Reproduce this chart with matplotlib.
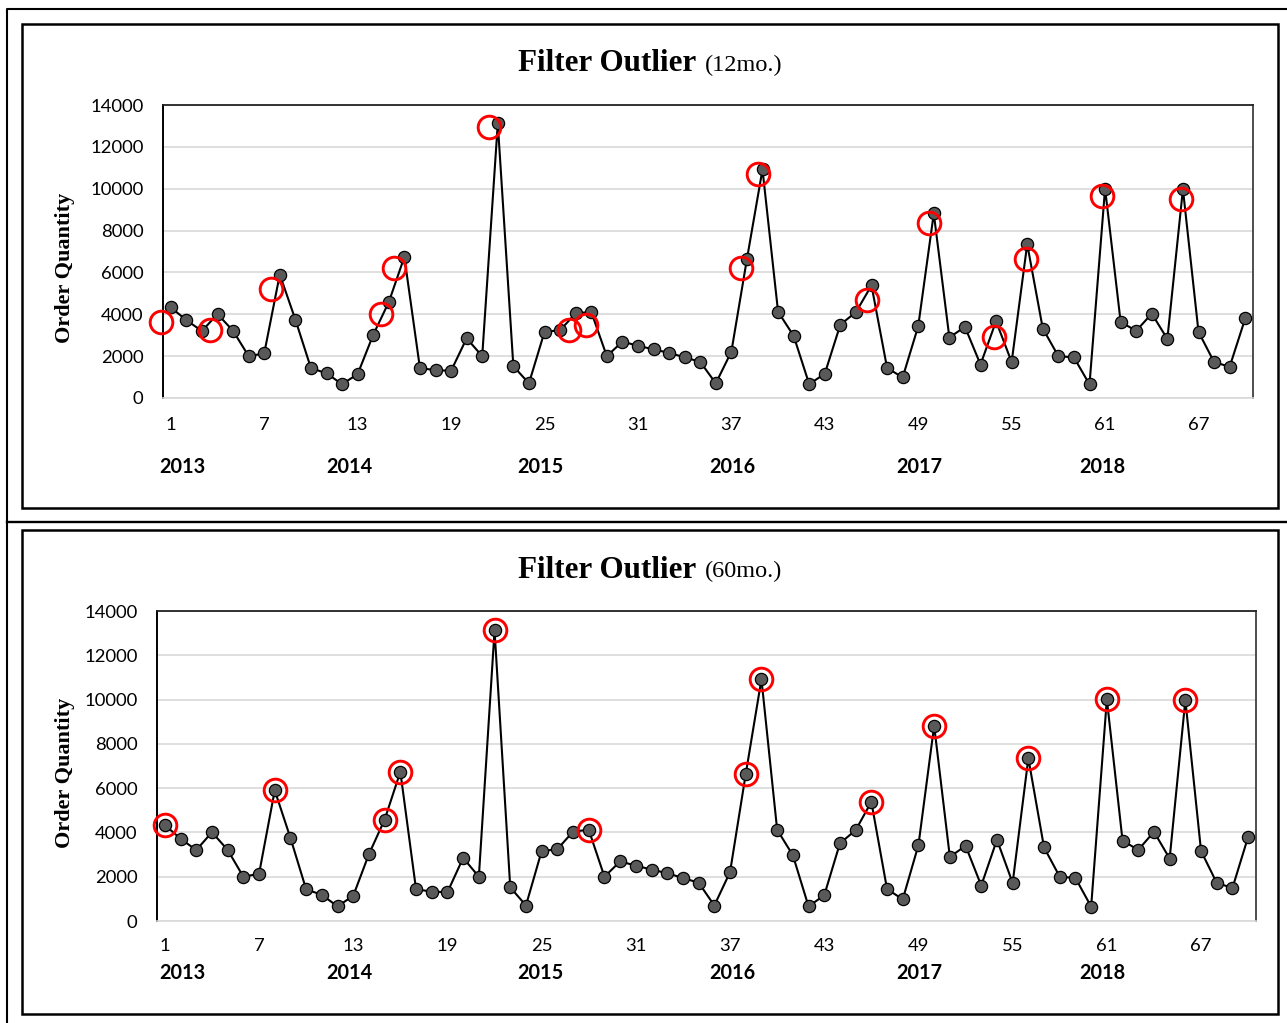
import matplotlib
matplotlib.use('Agg')
import matplotlib.pyplot as plt
from matplotlib.lines import Line2D
from matplotlib.patches import Rectangle

# ---------------- data ----------------
months = list(range(1, 71))
order_qty = [4330, 3720, 3200, 4010, 3210, 2000, 2130, 5900, 3750, 1430,
             1180, 660, 1140, 3020, 4580, 6740, 1430, 1330, 1300, 2850,
             2000, 13120, 1520, 700, 3160, 3240, 4040, 4120, 2000, 2690,
             2500, 2320, 2160, 1940, 1730, 700, 2210, 6640, 10920, 4120,
             2970, 660, 1160, 3510, 4100, 5380, 1440, 980, 3430, 8820,
             2890, 3400, 1600, 3670, 1720, 7350, 3320, 2000, 1940, 650,
             10010, 3630, 3210, 4030, 2820, 9980, 3160, 1720, 1490, 3800]

# red rings, 12-month filter (drawn slightly off the points in the original)
outlier12_x = [0.36, 3.53, 7.45, 14.47, 15.35, 21.46, 26.60, 27.67,
               37.61, 38.68, 45.70, 49.69, 53.85, 55.90, 60.83, 65.86]
outlier12_y = [3640, 3240, 5200, 4010, 6190, 12960, 3240, 3480,
               6190, 10700, 4680, 8340, 2900, 6620, 9650, 9490]

# red rings, 60-month filter (on the points)
outlier60_month = [1, 8, 15, 16, 22, 28, 38, 39, 46, 50, 56, 61, 66]

x_ticks = [1, 7, 13, 19, 25, 31, 37, 43, 49, 55, 61, 67]
y_ticks = [0, 2000, 4000, 6000, 8000, 10000, 12000, 14000]
years = ['2013', '2014', '2015', '2016', '2017', '2018']
titles = [('Filter Outlier', '(12mo.)'), ('Filter Outlier', '(60mo.)')]
ylabel = 'Order Quantity'

# ---------------- layout ----------------
W, H = 1287, 1023
fig = plt.figure(figsize=(W / 100, H / 100), dpi=100)
fig.patch.set_facecolor('white')

def fx(px):
    return px / W

def fy(py):
    return 1 - py / H

TICK_FONT = 'Lato'
SERIF = 'Liberation Serif'

# outer frame + divider
fig.add_artist(Line2D([fx(7), fx(7), fx(W)], [fy(H), fy(9), fy(9)],
                      transform=fig.transFigure, color='black', lw=1.5))
fig.add_artist(Line2D([fx(7), fx(W)], [fy(521.5), fy(521.5)],
                      transform=fig.transFigure, color='black', lw=1.7))

# panel boxes
for (top, bot) in [(24, 508), (530, 1014)]:
    fig.add_artist(Rectangle((fx(22), fy(bot)), fx(1278) - fx(22), fy(top) - fy(bot),
                             transform=fig.transFigure, fill=False,
                             edgecolor='black', lw=1.8))

panels = [
    dict(ax=(163, 1253, 105, 398), title_base=71.5, ylab_y=268, year_y=467),
    dict(ax=(157, 1256, 611, 921), title_base=577.5, ylab_y=773, year_y=973),
]
year_px = [182, 349, 540, 732, 919, 1102]

for i, p in enumerate(panels):
    l, r, t, b = p['ax']
    ax = fig.add_axes([fx(l), fy(b), fx(r) - fx(l), fy(t) - fy(b)])
    ax.set_xlim(0.5, 70.5)
    ax.set_ylim(0, 14000)
    ax.set_facecolor('none')
    ax.yaxis.grid(True, color='#d9d9d9', lw=1.2, zorder=0)
    ax.set_axisbelow(True)
    ax.set_yticks(y_ticks)
    ax.set_xticks(x_ticks)
    ax.tick_params(axis='both', length=0, labelsize=13.3)
    ax.tick_params(axis='y', pad=14)
    ax.tick_params(axis='x', pad=14 if i == 0 else 12)
    for lab in ax.get_xticklabels() + ax.get_yticklabels():
        lab.set_fontfamily(TICK_FONT)
    ax.spines['left'].set_color('black')
    ax.spines['left'].set_linewidth(1.4)
    ax.spines['top'].set_color('#222222')
    ax.spines['top'].set_linewidth(1.3)
    ax.spines['right'].set_color('#404040')
    ax.spines['right'].set_linewidth(1.3)
    ax.spines['bottom'].set_color('#d9d9d9')
    ax.spines['bottom'].set_linewidth(1.2)

    ax.plot(months, order_qty, color='black', lw=1.5, marker='o',
            markersize=8.8, markerfacecolor='#595959', markeredgecolor='black',
            markeredgewidth=0.9, zorder=3, clip_on=False)

    if i == 0:
        ax.plot(outlier12_x, outlier12_y, linestyle='none', marker='o',
                markersize=16.3, markerfacecolor='none', markeredgecolor='#ff0000',
                markeredgewidth=2.1, zorder=4, clip_on=False)
    else:
        ox = outlier60_month
        oy = [order_qty[m - 1] for m in outlier60_month]
        ax.plot(ox, oy, linestyle='none', marker='o',
                markersize=16.3, markerfacecolor='none', markeredgecolor='#ff0000',
                markeredgewidth=2.1, zorder=4, clip_on=False)

    # title
    fig.text(fx(703), fy(p['title_base']), titles[i][0] + ' ', ha='right',
             va='baseline', fontsize=22.4, fontweight='bold', family=SERIF)
    fig.text(fx(705), fy(p['title_base']), titles[i][1], ha='left',
             va='baseline', fontsize=17.5, family=SERIF)

    # y label
    fig.text(fx(65), fy(p['ylab_y']), ylabel, rotation=90, ha='center',
             va='center', fontsize=16, fontweight='bold', family=SERIF)

    # year labels
    for yr, xp in zip(years, year_px):
        fig.text(fx(xp), fy(p['year_y']), yr, ha='center', va='center',
                 fontsize=14.3, fontweight='bold', family=TICK_FONT)

fig.savefig('out.png', dpi=100, facecolor='white')
